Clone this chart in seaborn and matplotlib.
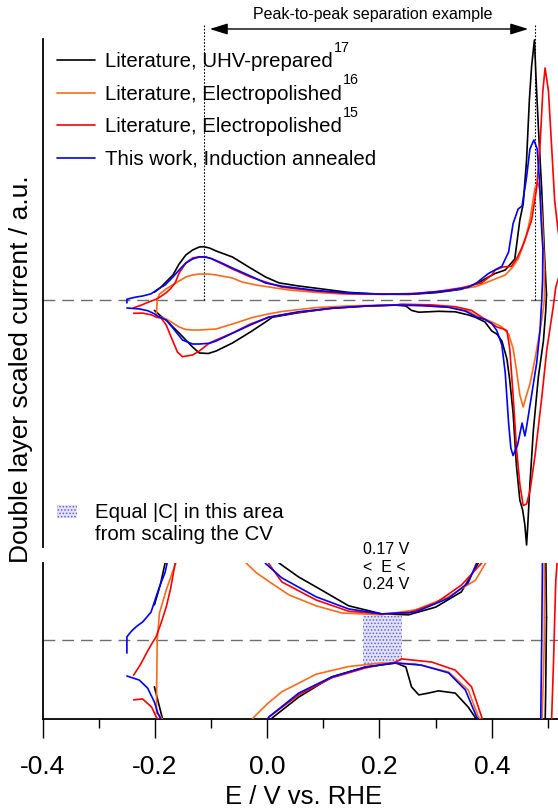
import numpy as np
import pandas as pd
import matplotlib
matplotlib.use("Agg")
import matplotlib.pyplot as plt
import seaborn as sns
from matplotlib.lines import Line2D
from matplotlib.patches import Rectangle

# ---------------- data (E in V vs RHE, current in scaled a.u.) ----------------
black_an_E = [-0.201, -0.190, -0.182, -0.168, -0.157, -0.145, -0.133, -0.121, -0.113, -0.103, -0.091, -0.062,
              -0.030, -0.003, 0.021, 0.056, 0.087, 0.145, 0.204, 0.252, 0.300, 0.346, 0.376, 0.394, 0.406,
              0.424, 0.441, 0.450, 0.456, 0.462, 0.467, 0.471, 0.476, 0.479, 0.483, 0.489, 0.494, 0.4975]
black_an_I = [7.8, 12.5, 17.1, 25, 36, 45, 50, 53, 53.3, 52, 49, 43,
              32, 23, 17.1, 14, 11.8, 7.6, 5.8, 5.6, 7.3, 10.7, 17.1, 23, 26.5,
              30, 41, 80, 96, 140, 200, 234, 260, 220, 173, 110, 45, 5]
black_ca_E = [0.4975, 0.496, 0.492, 0.483, 0.474, 0.468, 0.464, 0.462, 0.459, 0.455, 0.450, 0.444, 0.438,
              0.432, 0.427, 0.418, 0.409, 0.400, 0.388, 0.371, 0.358, 0.335, 0.305, 0.287, 0.270, 0.257,
              0.247, 0.229, 0.175, 0.115, 0.056, 0.009, -0.003, -0.030, -0.062, -0.091, -0.105, -0.121,
              -0.133, -0.145, -0.157, -0.168, -0.180, -0.187, -0.201]
black_ca_I = [5, -12, -41, -77, -131, -184, -227, -245, -225, -210, -200, -166, -113,
              -80, -59, -41, -34, -31, -22, -17.3, -14.9, -11.8, -11.3, -11.8, -12.2, -10.4,
              -6, -5.1, -6, -8.2, -12.7, -17.3, -22, -32, -43, -51, -53.5, -53,
              -47, -40, -33, -27, -20, -17.3, -10.4]

orange_an_E = [-0.1975, -0.196, -0.192, -0.186, -0.180, -0.169, -0.157, -0.145, -0.133, -0.121, -0.105,
               -0.091, -0.062, -0.045, -0.020, 0.003, 0.039, 0.087, 0.133, 0.204, 0.264, 0.323, 0.371,
               0.389, 0.406, 0.424, 0.436, 0.447, 0.459, 0.468, 0.477, 0.482, 0.486, 0.490, 0.492, 0.494]
orange_an_I = [-16.2, 0, 6, 8.5, 11.1, 15, 19, 23, 25, 26, 26,
               25, 22, 18, 15, 13, 10, 7.6, 6, 5.6, 6.7, 9.6, 13.3,
               17.1, 21, 25, 32, 41, 59, 80, 112, 117.5, 109, 80, 55, 30]
orange_ca_E = [0.494, 0.4935, 0.492, 0.487, 0.482, 0.477, 0.468, 0.462, 0.456, 0.450, 0.444, 0.438, 0.430,
               0.418, 0.406, 0.388, 0.376, 0.358, 0.323, 0.264, 0.204, 0.145, 0.087, 0.056, 0.026, 0.000,
               -0.025, -0.062, -0.091, -0.121, -0.133, -0.145, -0.157, -0.168, -0.180, -0.190, -0.1975]
orange_ca_I = [30, 0, -8, -27, -43, -59, -84, -95, -107, -95, -70, -48.5, -34,
               -27, -23.5, -19, -17, -11.1, -7.1, -5.3, -5.1, -5.9, -7.6, -9.6, -11.5, -14.2,
               -17.3, -24, -29, -30, -30, -29.5, -27, -23, -19, -17, -16.2]

red_an_E = [-0.238, -0.226, -0.215, -0.206, -0.198, -0.189, -0.180, -0.172, -0.164, -0.157, -0.145, -0.133,
            -0.121, -0.110, -0.100, -0.091, -0.062, -0.030, -0.003, 0.026, 0.087, 0.145, 0.204, 0.252,
            0.300, 0.346, 0.382, 0.400, 0.406, 0.420, 0.435, 0.445, 0.453, 0.462, 0.471, 0.480, 0.486,
            0.491, 0.495, 0.501, 0.507, 0.512, 0.518, 0.524]
red_an_I = [-7.8, -5.5, -2.9, -0.9, 0.7, 3.8, 7.3, 11.5, 17.1, 27, 37, 42,
            43.3, 43, 41.5, 39, 31, 23, 18, 12.9, 8.9, 6.4, 5.8, 6.0,
            8.2, 12.2, 17.1, 25, 30, 33, 33.7, 42, 51.5, 65, 80, 112, 155,
            209, 232, 209, 150, 100, 70, 50]
red_ca_E = [0.526, 0.518, 0.514, 0.510, 0.506, 0.498, 0.489, 0.477, 0.468, 0.462, 0.456, 0.450, 0.444,
            0.438, 0.432, 0.427, 0.421, 0.409, 0.400, 0.388, 0.382, 0.364, 0.335, 0.293, 0.239, 0.229,
            0.175, 0.115, 0.056, 0.003, -0.030, -0.062, -0.091, -0.103, -0.121, -0.133, -0.151, -0.160,
            -0.169, -0.180, -0.189, -0.197, -0.206, -0.222, -0.238]
red_ca_I = [35, 20, 13, -5, -20, -50, -98, -156, -191, -204, -205.5, -184, -148,
            -95, -48.5, -30.6, -29, -27, -23.5, -19.5, -17.1, -10.4, -6.7, -4.9, -4.2, -4.9,
            -6.2, -8.4, -12.2, -17.1, -24, -33, -40, -43, -51, -55, -56.7, -52,
            -40, -25, -18, -17.3, -14.9, -13.1, -13.3]

blue_an_E = [-0.250, -0.250, -0.245, -0.240, -0.232, -0.222, -0.215, -0.207, -0.198, -0.190, -0.182, -0.168,
             -0.157, -0.145, -0.133, -0.121, -0.110, -0.100, -0.085, -0.062, -0.030, -0.003, 0.026, 0.087,
             0.145, 0.204, 0.264, 0.323, 0.358, 0.373, 0.394, 0.418, 0.430, 0.438, 0.447, 0.454, 0.462,
             0.468, 0.475, 0.481, 0.485, 0.488, 0.490, 0.491]
blue_an_I = [-2.9, 0.7, 1.5, 2.2, 3.1, 4, 5, 6.2, 9.6, 12.5, 15, 23,
             30, 37, 41, 43, 43, 41.5, 38, 32, 24, 17, 13.8, 9.6,
             6.9, 5.8, 6.2, 9.3, 12.7, 17.1, 26.5, 33.7, 48, 76.5, 91, 94, 123,
             151, 160, 151, 119, 80, 60, 51.5]
blue_ca_E = [0.491, 0.4905, 0.489, 0.486, 0.480, 0.471, 0.462, 0.459, 0.454, 0.450, 0.446, 0.438, 0.434,
             0.430, 0.424, 0.418, 0.409, 0.400, 0.388, 0.373, 0.353, 0.323, 0.275, 0.229, 0.175, 0.115,
             0.056, 0.003, -0.030, -0.062, -0.091, -0.103, -0.121, -0.133, -0.151, -0.168, -0.180, -0.195,
             -0.201, -0.213, -0.228, -0.250]
blue_ca_I = [51.5, 20, 0, -30, -63, -95, -127, -136, -123, -134, -145, -155.6, -148,
             -123, -73, -45, -30.6, -23.5, -19.5, -17.1, -11.1, -7.3, -5.6, -5.1, -6, -8.2,
             -11.8, -17.1, -25, -33.3, -41, -43.3, -44, -44, -40, -28, -20, -16.2,
             -13.8, -10.7, -8.9, -8]

curve_names = ["Literature, UHV-prepared", "Literature, Electropolished (16)",
               "Literature, Electropolished (15)", "This work, Induction annealed"]
legend_texts = ["Literature, UHV-prepared", "Literature, Electropolished",
                "Literature, Electropolished", "This work, Induction annealed"]
legend_refs = ["17", "16", "15", ""]
curve_colors = ["#000000", "#ff6a1a", "#ff0000", "#0000ff"]

shade_E = [0.17, 0.24]
shade_lo = [-5.3, -5.3]
shade_hi = [5.4, 5.4]

x_major = [-0.4, -0.2, 0.0, 0.2, 0.4]
x_minor = [-0.3, -0.1, 0.1, 0.3, 0.5]
peak_E = [-0.113, 0.477]

# ---------------- build long table ----------------
branches = [
    (curve_names[0], "an", black_an_E, black_an_I), (curve_names[0], "ca", black_ca_E, black_ca_I),
    (curve_names[1], "an", orange_an_E, orange_an_I), (curve_names[1], "ca", orange_ca_E, orange_ca_I),
    (curve_names[2], "an", red_an_E, red_an_I), (curve_names[2], "ca", red_ca_E, red_ca_I),
    (curve_names[3], "an", blue_an_E, blue_an_I), (curve_names[3], "ca", blue_ca_E, blue_ca_I),
]
frames = []
for name, br, E, I in branches:
    frames.append(pd.DataFrame({"E": E, "I": I, "curve": name, "seg": name + br}))
df = pd.concat(frames, ignore_index=True)

# ---------------- style ----------------
sns.set_theme(style="white")
plt.rcParams["font.family"] = ["Liberation Sans", "DejaVu Sans"]
plt.rcParams["axes.unicode_minus"] = False
plt.rcParams["text.color"] = "black"
plt.rcParams["xtick.color"] = "black"
plt.rcParams["xtick.labelcolor"] = "black"
plt.rcParams["axes.labelcolor"] = "black"
plt.rcParams["hatch.color"] = "#6060e6"
plt.rcParams["hatch.linewidth"] = 0.7

W, H = 558, 808
fig = plt.figure(figsize=(W / 100, H / 100), dpi=100)


def rect(l, t, r, b):
    return [l / W, 1 - b / H, (r - l) / W, (b - t) / H]


ax1 = fig.add_axes(rect(42.7, 39, 558, 547))
ax2 = fig.add_axes(rect(42.7, 563, 558, 719))

palette = dict(zip(curve_names, curve_colors))
for ax in (ax1, ax2):
    ax.axhline(0, color="#6e6e6e", lw=1.0, dashes=(8.5, 5), zorder=1)
    sns.lineplot(data=df, x="E", y="I", hue="curve", units="seg", estimator=None, sort=False,
                 hue_order=curve_names, palette=palette, legend=False, ax=ax, lw=1.2, zorder=3)
    ax.set_xlim(-0.4, 0.518)
    ax.set_xlabel("")
    ax.set_ylabel("")
    ax.set_yticks([])
    ax.grid(False)
    for s in ("top", "right"):
        ax.spines[s].set_visible(False)
    ax.spines["left"].set_color("black")
    ax.spines["left"].set_linewidth(1.3)

ax1.set_ylim(-247, 261)
ax1.spines["bottom"].set_visible(False)
ax1.set_xticks([])

k = 4.5
ax2.set_ylim(-79 / k, 77 / k)
ax2.spines["bottom"].set_color("black")
ax2.spines["bottom"].set_linewidth(1.3)
ax2.set_xticks(x_major)
ax2.set_xticklabels([f"{v:.1f}" for v in x_major])
ax2.set_xticks(x_minor, minor=True)
ax2.tick_params(axis="x", which="major", direction="out", length=13.7, width=1.0, color="black",
                labelcolor="black", labelsize=19, pad=12.5, bottom=True)
ax2.tick_params(axis="x", which="minor", direction="out", length=6.5, width=1.0, color="black", bottom=True)

# shaded equal-|C| region
ax2.fill_between(shade_E, shade_lo, shade_hi, facecolor="#e2e2fa", edgecolor="#6060e6",
                 hatch=".....", lw=0, zorder=2)

# peak-to-peak annotation
ax1.vlines(peak_E, 0, 275, colors="black", lw=0.8, linestyles=(0, (1.5, 1.5)), clip_on=False, zorder=2)
ax1.annotate("", xy=(0.465, 271), xytext=(-0.1024, 271),
             arrowprops=dict(arrowstyle="<|-|>,head_length=0.9,head_width=0.28", color="black", lw=1.0,
                             shrinkA=0, shrinkB=0),
             annotation_clip=False)
fig.text(373 / W, 1 - 15 / H, "Peak-to-peak separation example", ha="center", va="center",
         fontsize=11.5, color="black")

# legend (manual, to match row spacing and raised reference numbers)
renderer = fig.canvas.get_renderer()
rows_y = [60, 92.7, 125.3, 158]
for y, c, txt, ref in zip(rows_y, curve_colors, legend_texts, legend_refs):
    fig.add_artist(Line2D([57 / W, 95 / W], [1 - y / H, 1 - y / H], color=c, lw=1.2,
                          transform=fig.transFigure))
    t = fig.text(105 / W, 1 - (y + 6.9) / H, txt, ha="left", va="baseline", fontsize=14.7, color="black")
    if ref:
        bb = t.get_window_extent(renderer)
        fig.text((bb.x1 + 1.0) / W, 1 - (y - 8.2) / H, ref, ha="left", va="baseline", fontsize=10.3,
                 color="black")

# equal |C| key
fig.add_artist(Rectangle((57 / W, 1 - 518 / H), 20 / W, 13 / H, transform=fig.transFigure,
                         facecolor="#e2e2fa", edgecolor="#6060e6", hatch=".....", lw=0))
fig.text(95 / W, 1 - 512 / H, "Equal |C| in this area", ha="left", va="center", fontsize=14.7, color="black")
fig.text(95 / W, 1 - 535 / H, "from scaling the CV", ha="left", va="center", fontsize=14.7, color="black")

fig.text(363 / W, 1 - 567 / H, "0.17 V\n<  E <\n0.24 V", ha="left", va="center", fontsize=11.5,
         linespacing=1.2, color="black")

fig.text(21 / W, 1 - 369 / H, "Double layer scaled current / a.u.", rotation=90, ha="center",
         va="center", fontsize=19, color="black")
fig.text(304 / W, 1 - 797 / H, "E / V vs. RHE", ha="center", va="center", fontsize=18.5, color="black")

fig.savefig("out.png", dpi=100)
